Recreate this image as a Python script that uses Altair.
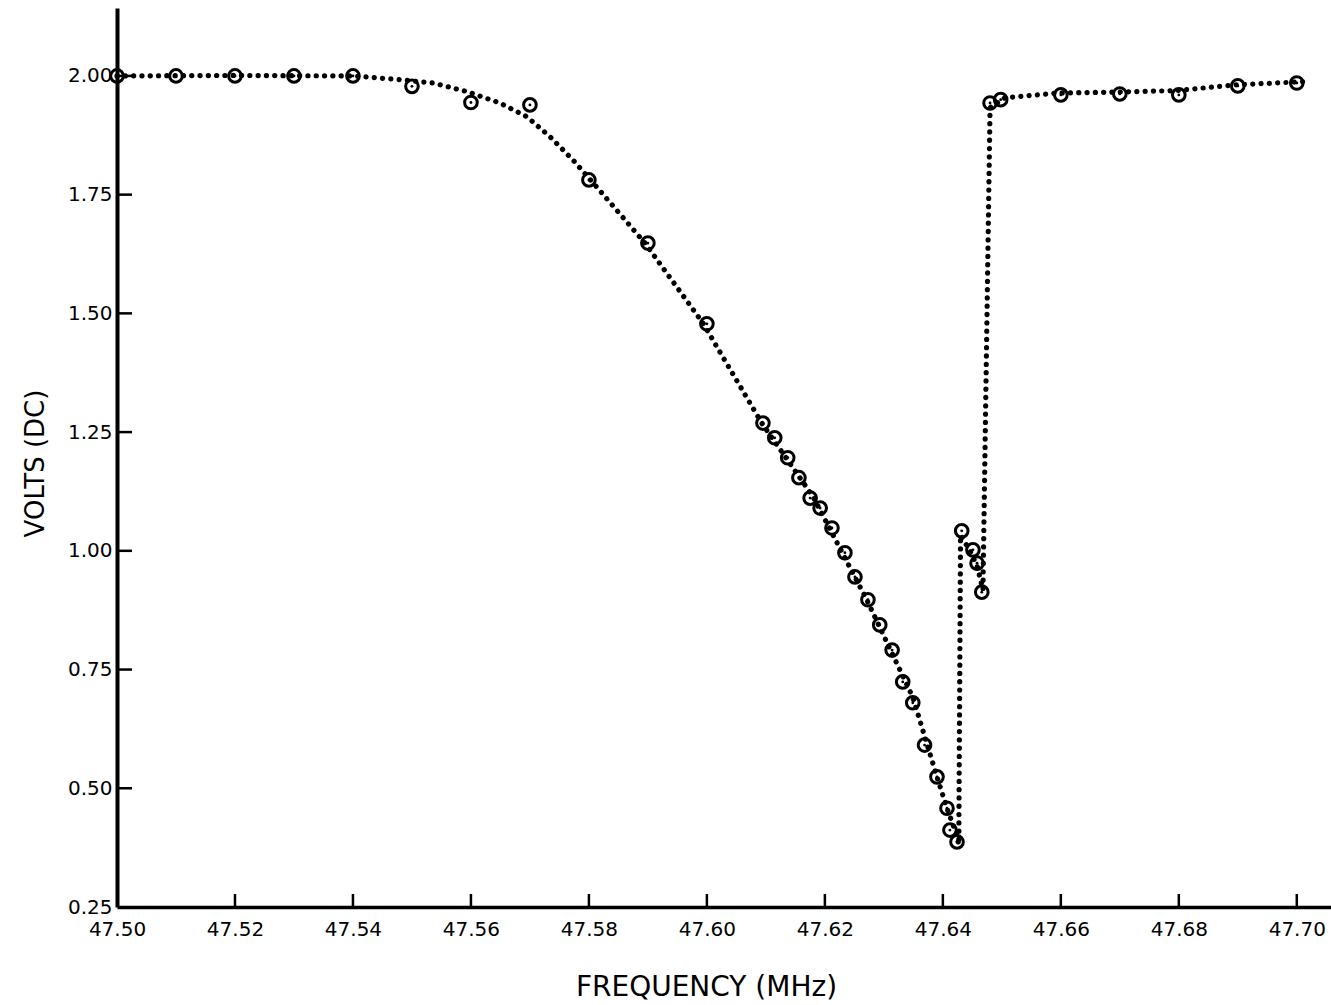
import altair as alt
import pandas as pd

# Measured points (open circles)
pt_freq = [47.50, 47.51, 47.52, 47.53, 47.54, 47.55, 47.56, 47.57, 47.58, 47.59, 47.60,
           47.6095, 47.6115, 47.6137, 47.6156, 47.6175, 47.6192, 47.6212, 47.6234, 47.6251,
           47.6273, 47.6293, 47.6314, 47.6332, 47.6349, 47.6369, 47.6390, 47.6407, 47.6412,
           47.6424, 47.6432, 47.6451, 47.6458, 47.6466, 47.6480, 47.6498,
           47.66, 47.67, 47.68, 47.69, 47.70]
pt_volts = [2.00, 2.00, 2.00, 2.00, 2.00, 1.978, 1.944, 1.939, 1.781, 1.648, 1.478,
            1.269, 1.238, 1.196, 1.154, 1.111, 1.090, 1.048, 0.996, 0.945,
            0.897, 0.844, 0.791, 0.724, 0.680, 0.591, 0.524, 0.458, 0.412,
            0.387, 1.042, 1.002, 0.974, 0.913, 1.943, 1.950,
            1.960, 1.962, 1.960, 1.979, 1.985]

# Hand-drawn dotted curve, read along its path
cv_freq = [47.500, 47.520, 47.540, 47.548, 47.5536, 47.5593, 47.5649, 47.5695, 47.5734,
           47.5773, 47.5807, 47.5895, 47.5993, 47.6093, 47.6180, 47.6271, 47.6349,
           47.6390, 47.6407, 47.6424, 47.6427, 47.6430, 47.6447, 47.6458, 47.6468,
           47.6480, 47.6505, 47.6597, 47.6697, 47.6795, 47.6895, 47.7014]
cv_volts = [2.000, 2.001, 2.000, 1.992, 1.985, 1.967, 1.943, 1.914, 1.872,
            1.823, 1.775, 1.648, 1.480, 1.269, 1.114, 0.897, 0.692,
            0.524, 0.458, 0.400, 0.381, 1.033, 0.998, 0.968, 0.918,
            1.933, 1.954, 1.964, 1.966, 1.969, 1.981, 1.988]

x_ticks = [47.50, 47.52, 47.54, 47.56, 47.58, 47.60, 47.62, 47.64, 47.66, 47.68, 47.70]
y_ticks = [0.25, 0.50, 0.75, 1.00, 1.25, 1.50, 1.75, 2.00]

pts = pd.DataFrame({"f": pt_freq, "v": pt_volts})
curve = pd.DataFrame({"f": cv_freq, "v": cv_volts, "i": list(range(len(cv_freq)))})
xt = pd.DataFrame({"f": x_ticks[1:]})
yt = pd.DataFrame({"v": y_ticks[1:]})

W, H = 1214, 899
FONT = "DejaVu Sans"

xscale = alt.Scale(domain=[47.50, 47.7058], nice=False, zero=False)
yscale = alt.Scale(domain=[0.25, 2.143], nice=False, zero=False)

xaxis = alt.Axis(values=x_ticks, format=".2f", title="FREQUENCY (MHz)", grid=False,
                 ticks=False, tickSize=0, domainWidth=3.5, domainColor="black",
                 labelFont=FONT, labelFontSize=20, labelColor="black", labelPadding=12,
                 titleFont=FONT, titleFontSize=28, titleFontWeight="normal", titleColor="black",
                 titleX=589, titleY=80, titleAlign="center", titleBaseline="middle",
                 labelFlush=False, labelOverlap=False)
yaxis = alt.Axis(values=y_ticks, format=".2f", title="VOLTS (DC)", grid=False,
                 ticks=False, tickSize=0, domainWidth=4, domainColor="black",
                 labelFont=FONT, labelFontSize=20, labelColor="black", labelPadding=5,
                 titleFont=FONT, titleFontSize=26, titleFontWeight="normal", titleColor="black",
                 titleX=-82, titleY=455, titleAngle=270, titleAlign="center", titleBaseline="middle",
                 labelFlush=False, labelOverlap=False)

line = alt.Chart(curve).mark_line(
    color="black", strokeWidth=5.2, strokeDash=[0.1, 8.2], strokeCap="round"
).encode(
    x=alt.X("f:Q", scale=xscale, axis=xaxis),
    y=alt.Y("v:Q", scale=yscale, axis=yaxis),
    order="i:Q",
)

circles = alt.Chart(pts).mark_point(
    shape="circle", filled=False, color="black", size=160, strokeWidth=3, opacity=1
).encode(x=alt.X("f:Q", scale=xscale), y=alt.Y("v:Q", scale=yscale))

centers = alt.Chart(pts).mark_circle(color="black", size=8, opacity=1).encode(
    x=alt.X("f:Q", scale=xscale), y=alt.Y("v:Q", scale=yscale))

xtick_marks = alt.Chart(xt).mark_rule(color="black", strokeWidth=2.5).encode(
    x=alt.X("f:Q", scale=xscale), y=alt.value(H), y2=alt.value(H - 13))

ytick_marks = alt.Chart(yt).mark_rule(color="black", strokeWidth=2.5).encode(
    y=alt.Y("v:Q", scale=yscale), x=alt.value(0), x2=alt.value(15))

chart = alt.layer(line, circles, centers, xtick_marks, ytick_marks).properties(
    width=W, height=H,
    background="white",
    autosize=alt.AutoSizeParams(type="none"),
    padding={"left": 117, "top": 8, "right": 0, "bottom": 98},
).configure_view(strokeWidth=0, stroke="transparent")

chart.save("out.html", embed_options={"renderer": "svg", "actions": False})
